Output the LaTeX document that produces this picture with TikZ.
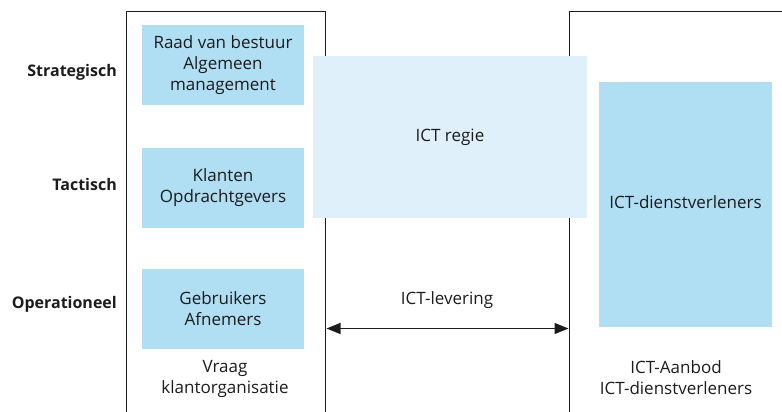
\documentclass[tikz,border=0pt]{standalone}
\usepackage{fontspec}
\setmainfont{Open Sans}
\usetikzlibrary{arrows.meta}
\definecolor{boxblue}{RGB}{176,222,243}
\definecolor{regieblue}{RGB}{223,240,250}
\definecolor{ink}{RGB}{28,28,28}
\begin{document}
\begin{tikzpicture}[x=1pt,y=-1pt,
  frameline/.style={draw=ink,line width=1.3pt},
  txt/.style={text=ink,align=center,font=\fontsize{17}{21}\selectfont,inner sep=0pt},
  layerbox/.style={fill=boxblue,draw=none,txt,minimum width=162pt,minimum height=80pt},
  levellabel/.style={text=ink,font=\bfseries\fontsize{16}{19}\selectfont,anchor=east,inner sep=0pt},
  flow/.style={draw=ink,line width=1.3pt,{Triangle[length=14pt,width=11pt]}-{Triangle[length=14pt,width=11pt]}}
]
\useasboundingbox (0,0) rectangle (782,412);

% frames of the two organisations (open at the bottom)
\coordinate (lfb) at (126.5,412);
\coordinate (lft) at (126.5,11.5);
\coordinate (rft) at (325.5,11.5);
\coordinate (rfb) at (325.5,412);
\coordinate (sfb) at (569.5,412);
\coordinate (sft) at (569.5,11.5);
\coordinate (sfr) at (782,11.5);
\draw[frameline] (lfb) -- (lft) -- (rft) -- (rfb);
\draw[frameline] (sfb) -- (sft) -- (sfr);

% demand side layers
\node[layerbox] (raad) at (223,65) {Raad van bestuur\\Algemeen\\management};
\node[layerbox] (klant) at (223,188) {Klanten\\Opdrachtgevers};
\node[layerbox] (gebr) at (223,309) {Gebruikers\\Afnemers};

% governance in the middle, over the frame lines
\node[fill=regieblue,draw=none,txt,minimum width=274pt,minimum height=162pt] (regie) at (450,137) {ICT regie};

% supplier side
\node[fill=boxblue,draw=none,minimum width=173pt,minimum height=245pt] (dienst) at (685.5,204.5) {};
\node[txt] (dienstlbl) at (685.5,202) {ICT-dienstverleners};

% level labels
\node[levellabel] (strat) at (117,72) {Strategisch};
\node[levellabel] (tact) at (117,184) {Tactisch};
\node[levellabel] (oper) at (117,304) {Operationeel};

% captions
\node[txt] (vraag) at (225,379) {Vraag\\klantorganisatie};
\node[txt] (aanbod) at (676,378) {ICT-Aanbod\\ICT-dienstverleners};

% delivery arrow between the frames
\coordinate (al) at (326.5,328.5);
\coordinate (ar) at (568.5,328.5);
\draw[flow] (al) -- (ar);
\node[txt] (lever) at (447,300) {ICT-levering};
\end{tikzpicture}
\end{document}
